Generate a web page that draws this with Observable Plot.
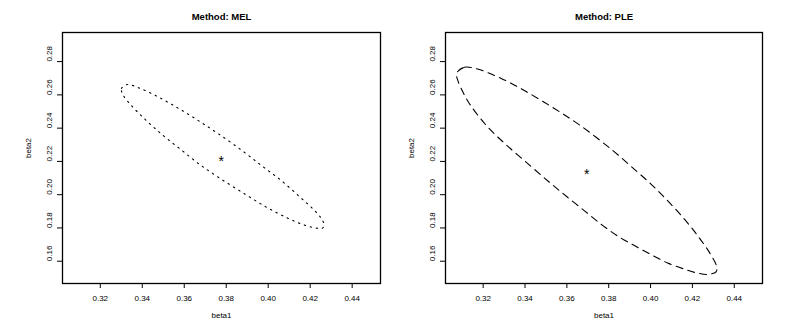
<!DOCTYPE html>
<html>
<head>
<meta charset="utf-8">
<script src="https://cdn.jsdelivr.net/npm/d3@7"></script>
<script src="https://cdn.jsdelivr.net/npm/@observablehq/plot@0.6"></script>
<style>
  html, body { margin: 0; padding: 0; background: #fff; }
  #wrap { display: flex; width: 793px; height: 331px; overflow: hidden; }
  #wrap svg { display: block; }
</style>
</head>
<body>
<div id="wrap"></div>
<script>
// ---- Data ----
const xTicks = [0.32, 0.34, 0.36, 0.38, 0.40, 0.42, 0.44];
const yTicks = [0.16, 0.18, 0.20, 0.22, 0.24, 0.26, 0.28];

const melTitle = "Method: MEL";
const melBeta1 = [0.3308, 0.3301, 0.3329, 0.3386, 0.3465, 0.3567, 0.3665, 0.3765, 0.3881, 0.3973,
                  0.4063, 0.4152, 0.4216, 0.4252, 0.4265, 0.4259, 0.4229, 0.4173, 0.4093, 0.3991,
                  0.3891, 0.3768, 0.3671, 0.3581, 0.3489, 0.3405, 0.3343];
const melBeta2 = [0.2601, 0.2639, 0.2662, 0.2641, 0.2595, 0.2523, 0.2447, 0.2364, 0.2260, 0.2170,
                  0.2084, 0.1985, 0.1911, 0.1859, 0.1825, 0.1799, 0.1799, 0.1817, 0.1859, 0.1925,
                  0.2002, 0.2100, 0.2184, 0.2274, 0.2367, 0.2463, 0.2543];
const melCenter = [0.3776, 0.2220];

const pleTitle = "Method: PLE";
const pleBeta1 = [0.3073, 0.3110, 0.3165, 0.3221, 0.3284, 0.3348, 0.3411, 0.3538, 0.3665, 0.3816,
                  0.3927, 0.4007, 0.4086, 0.4165, 0.4229, 0.4284, 0.4316, 0.4313, 0.4276, 0.4229,
                  0.4165, 0.4086, 0.4007, 0.3927, 0.3848, 0.3769, 0.3689, 0.3602, 0.3522, 0.3427,
                  0.3308, 0.3213, 0.3133, 0.3102, 0.3078];
const pleBeta2 = [0.2730, 0.2766, 0.2758, 0.2734, 0.2700, 0.2660, 0.2616, 0.2520, 0.2415, 0.2269,
                  0.2148, 0.2058, 0.1958, 0.1848, 0.1747, 0.1647, 0.1567, 0.1536, 0.1521, 0.1527,
                  0.1551, 0.1587, 0.1637, 0.1691, 0.1747, 0.1817, 0.1898, 0.1986, 0.2069, 0.2172,
                  0.2302, 0.2419, 0.2550, 0.2620, 0.2690];
const pleCenter = [0.3695, 0.2142];

const xLabel = "beta1";
const yLabel = "beta2";

// ---- Drawing ----
const FONT = "'Liberation Sans', Arial, Helvetica, sans-serif";

function panel({title, b1, b2, center, dash, width, ml, mr}) {
  const pts = b1.map((x, i) => ({x, y: b2[i]}));
  return Plot.plot({
    width, height: 331,
    marginLeft: ml, marginRight: mr, marginTop: 32, marginBottom: 48,
    x: {domain: [0.302, 0.4535]},
    y: {domain: [0.1466, 0.2975]},
    style: {fontFamily: FONT, color: "black", background: "white", overflow: "visible"},
    marks: [
      Plot.axisX({ticks: xTicks, tickSize: 5, tickPadding: 7, tickFormat: d3.format(".2f"), fontSize: 8, label: null}),
      Plot.axisY({ticks: yTicks, tickSize: 5, tickFormat: () => "", label: null}),
      Plot.text(yTicks, {y: d => d, frameAnchor: "left", dx: -13, rotate: -90, text: d => d3.format(".2f")(d), fontSize: 8}),
      Plot.frame({stroke: "black", strokeWidth: 1.3}),
      Plot.line(pts, {x: "x", y: "y", curve: "catmull-rom-closed", stroke: "black", strokeWidth: 1.1, strokeDasharray: dash}),
      Plot.text([{x: center[0], y: center[1]}], {x: "x", y: "y", text: () => "*", fontSize: 14, dy: 3}),
      Plot.text([title], {frameAnchor: "top", dy: -19, text: d => d, fontWeight: "bold", fontSize: 9.5}),
      Plot.text([xLabel], {frameAnchor: "bottom", dy: 34, text: d => d, fontSize: 8}),
      Plot.text([yLabel], {frameAnchor: "left", dx: -34, rotate: -90, text: d => d, fontSize: 8})
    ]
  });
}

const wrap = document.getElementById("wrap");
wrap.appendChild(panel({title: melTitle, b1: melBeta1, b2: melBeta2, center: melCenter,
  dash: "1.4,4.8", width: 396, ml: 62, mr: 16}));
wrap.appendChild(panel({title: pleTitle, b1: pleBeta1, b2: pleBeta2, center: pleCenter,
  dash: "7,5.3", width: 397, ml: 49, mr: 31}));
</script>
</body>
</html>
